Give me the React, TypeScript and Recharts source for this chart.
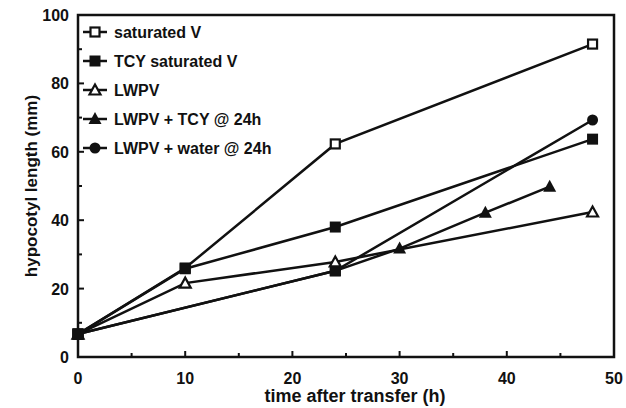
import React from 'react';
import { LineChart, Line, XAxis, YAxis, ReferenceArea } from 'recharts';

// ---- data (hours after transfer, hypocotyl length in mm) ----
const satV_hours = [0, 10, 24, 48];
const satV_len = [6.7, 26, 62.3, 91.5];

const tcySatV_hours = [0, 10, 24, 48];
const tcySatV_len = [6.7, 25.8, 38, 63.7];

const lwpv_hours = [0, 10, 24, 48];
const lwpv_len = [6.7, 21.6, 27.8, 42.4];

const lwpvTcy_hours = [0, 24, 30, 38, 44];
const lwpvTcy_len = [6.7, 25.2, 31.7, 42.2, 49.8];

const lwpvWater_hours = [0, 24, 48];
const lwpvWater_len = [6.7, 25.2, 69.3];

const xTicks = [0, 5, 10, 15, 20, 25, 30, 35, 40, 45, 50];
const yTicks = [0, 10, 20, 30, 40, 50, 60, 70, 80, 90, 100];

const seriesNames = [
  'saturated V',
  'TCY saturated V',
  'LWPV',
  'LWPV + TCY @ 24h',
  'LWPV + water @ 24h',
];

const toPoints = (xs: number[], ys: number[]) => xs.map((x, i) => ({ x, y: ys[i] }));

const FONT = '"Liberation Sans", Arial, Helvetica, sans-serif';
const INK = '#111';

type MarkerKind = 'openSquare' | 'square' | 'openTriangle' | 'triangle' | 'circle';

function Marker({ kind, cx, cy }: { kind: MarkerKind; cx: number; cy: number }) {
  switch (kind) {
    case 'openSquare':
      return <rect x={cx - 4.5} y={cy - 4.5} width={9} height={9} fill="#fff" stroke={INK} strokeWidth={2.2} />;
    case 'square':
      return <rect x={cx - 5.5} y={cy - 5.5} width={11} height={11} fill={INK} />;
    case 'openTriangle':
      return (
        <polygon
          points={`${cx},${cy - 5.5} ${cx + 5.5},${cy + 4.5} ${cx - 5.5},${cy + 4.5}`}
          fill="#fff"
          stroke={INK}
          strokeWidth={2.2}
          strokeLinejoin="miter"
        />
      );
    case 'triangle':
      return <polygon points={`${cx},${cy - 7} ${cx + 6.5},${cy + 5} ${cx - 6.5},${cy + 5}`} fill={INK} />;
    case 'circle':
    default:
      return <circle cx={cx} cy={cy} r={5.5} fill={INK} />;
  }
}

const series = [
  { name: seriesNames[4], data: toPoints(lwpvWater_hours, lwpvWater_len), marker: 'circle' as MarkerKind, transfer: true },
  { name: seriesNames[3], data: toPoints(lwpvTcy_hours, lwpvTcy_len), marker: 'triangle' as MarkerKind, transfer: true },
  { name: seriesNames[2], data: toPoints(lwpv_hours, lwpv_len), marker: 'openTriangle' as MarkerKind, transfer: false },
  { name: seriesNames[0], data: toPoints(satV_hours, satV_len), marker: 'openSquare' as MarkerKind, transfer: false },
  { name: seriesNames[1], data: toPoints(tcySatV_hours, tcySatV_len), marker: 'square' as MarkerKind, transfer: false },
];

const legendMarkers: MarkerKind[] = ['openSquare', 'square', 'openTriangle', 'triangle', 'circle'];

function XTick(props: any) {
  const { x, y, payload } = props;
  const v = payload.value as number;
  const major = v % 10 === 0;
  return (
    <g>
      {v > 0 && v < 50 && (
        <line x1={x} y1={y} x2={x} y2={y - (major ? 6 : 4)} stroke={INK} strokeWidth={2} />
      )}
      {major && (
        <text x={x} y={y + 27} textAnchor="middle" fontFamily={FONT} fontWeight="bold" fontSize={16} fill={INK}>
          {v}
        </text>
      )}
    </g>
  );
}

function YTick(props: any) {
  const { x, y, payload } = props;
  const v = payload.value as number;
  const major = v % 20 === 0;
  return (
    <g>
      {v > 0 && v < 100 && (
        <line x1={x} y1={y} x2={x + (major ? 6 : 4)} y2={y} stroke={INK} strokeWidth={2} />
      )}
      {major && (
        <text x={x - 9} y={y + 6} textAnchor="end" fontFamily={FONT} fontWeight="bold" fontSize={16} fill={INK}>
          {v}
        </text>
      )}
    </g>
  );
}

function XTitle(props: any) {
  const vb = props.viewBox || {};
  const cx = vb.x + vb.width / 2 + 9;
  return (
    <text x={cx} y={402} textAnchor="middle" fontFamily={FONT} fontWeight="bold" fontSize={18} fill={INK}>
      time after transfer (h)
    </text>
  );
}

function YTitle(props: any) {
  const vb = props.viewBox || {};
  const cy = vb.y + vb.height / 2;
  const cx = 31;
  return (
    <text
      x={cx}
      y={cy}
      transform={`rotate(-90, ${cx}, ${cy})`}
      textAnchor="middle"
      dominantBaseline="central"
      fontFamily={FONT}
      fontWeight="bold"
      fontSize={17}
      fill={INK}
    >
      hypocotyl length (mm)
    </text>
  );
}

function Legend() {
  return (
    <svg
      width={240}
      height={150}
      style={{ position: 'absolute', left: 80, top: 20 }}
    >
      {seriesNames.map((name, i) => {
        const cy = 12 + i * 29;
        return (
          <g key={name}>
            <line x1={3} y1={cy} x2={27} y2={cy} stroke={INK} strokeWidth={2.5} />
            <Marker kind={legendMarkers[i]} cx={15} cy={cy} />
            <text x={34} y={cy + 6} fontFamily={FONT} fontWeight="bold" fontSize={16} fill={INK}>
              {name}
            </text>
          </g>
        );
      })}
    </svg>
  );
}

export default function App() {
  return (
    <div style={{ position: 'absolute', left: 0, top: 0, width: 626, height: 408, background: '#fff' }}>
      <LineChart width={626} height={408} margin={{ top: 15, right: 12, bottom: 0, left: 0 }}>
        <XAxis
          dataKey="x"
          type="number"
          domain={[0, 50]}
          ticks={xTicks}
          interval={0}
          height={51}
          tickSize={0}
          tickMargin={0}
          tickLine={false}
          axisLine={false}
          tick={<XTick />}
          label={<XTitle />}
          allowDuplicatedCategory={false}
        />
        <YAxis
          dataKey="y"
          type="number"
          domain={[0, 100]}
          ticks={yTicks}
          interval={0}
          width={78}
          tickSize={0}
          tickMargin={0}
          tickLine={false}
          axisLine={false}
          tick={<YTick />}
          label={<YTitle />}
        />
        <ReferenceArea
          x1={0}
          x2={50}
          y1={0}
          y2={100}
          fill="none"
          fillOpacity={0}
          stroke={INK}
          strokeWidth={2.5}
          ifOverflow="visible"
        />
        {series.map((s) => (
          <Line
            key={s.name}
            name={s.name}
            data={s.data}
            dataKey="y"
            type="linear"
            stroke={INK}
            strokeWidth={2.5}
            isAnimationActive={false}
            dot={(p: any) => {
              const pt = s.data[p.index];
              const kind: MarkerKind = s.transfer && pt && pt.x <= 24 ? 'square' : s.marker;
              return <Marker key={`${s.name}-${p.index}`} kind={kind} cx={p.cx} cy={p.cy} />;
            }}
            activeDot={false}
          />
        ))}
      </LineChart>
      <Legend />
    </div>
  );
}
